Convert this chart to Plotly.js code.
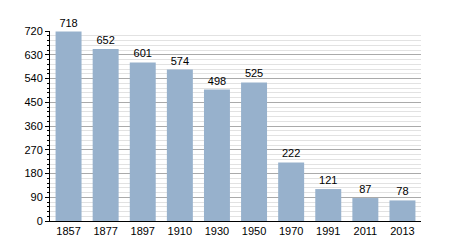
<!DOCTYPE html>
<html>
<head>
<meta charset="utf-8">
<script src="https://cdn.plot.ly/plotly-3.0.1.min.js"></script>
<style>html,body{margin:0;padding:0;background:#fff;}#chart{width:450px;height:250px;}</style>
</head>
<body>
<div id="chart"></div>
<script>
const years = ["1857","1877","1897","1910","1930","1950","1970","1991","2011","2013"];
const population = [718,652,601,574,498,525,222,121,87,78];
const yTicks = [0,90,180,270,360,450,540,630,720];

const trace = {
  type: 'bar',
  x: years,
  y: population,
  text: population.map(String),
  textposition: 'outside',
  cliponaxis: false,
  textfont: {family: 'Liberation Sans, Arial, sans-serif', size: 11, color: '#000'},
  marker: {color: '#97b1cc', line: {width: 0}},
  hoverinfo: 'none'
};

const layout = {
  width: 450, height: 250,
  margin: {l: 50, r: 29, t: 31, b: 29},
  paper_bgcolor: '#fff', plot_bgcolor: '#fff',
  bargap: 0.3,
  showlegend: false,
  font: {family: 'Liberation Sans, Arial, sans-serif', size: 11, color: '#000'},
  xaxis: {
    type: 'category',
    showline: true, linecolor: '#000', linewidth: 1,
    ticks: '', showgrid: false,
    tickfont: {size: 11, color: '#000'}
  },
  yaxis: {
    range: [0, 720],
    tickvals: yTicks,
    ticktext: yTicks.map(String),
    showline: true, linecolor: '#000', linewidth: 1,
    ticks: 'outside', ticklen: 4, tickcolor: '#000',
    showgrid: true, gridcolor: '#aaaaaa', gridwidth: 1,
    zeroline: false,
    tickfont: {size: 11, color: '#000'},
    minor: {dtick: 18, tick0: 0, ticks: 'outside', ticklen: 2, tickcolor: '#000', showgrid: true, gridcolor: '#e2e2e2', gridwidth: 1}
  }
};

Plotly.newPlot('chart', [trace], layout, {staticPlot: true, displayModeBar: false});
</script>
</body>
</html>
